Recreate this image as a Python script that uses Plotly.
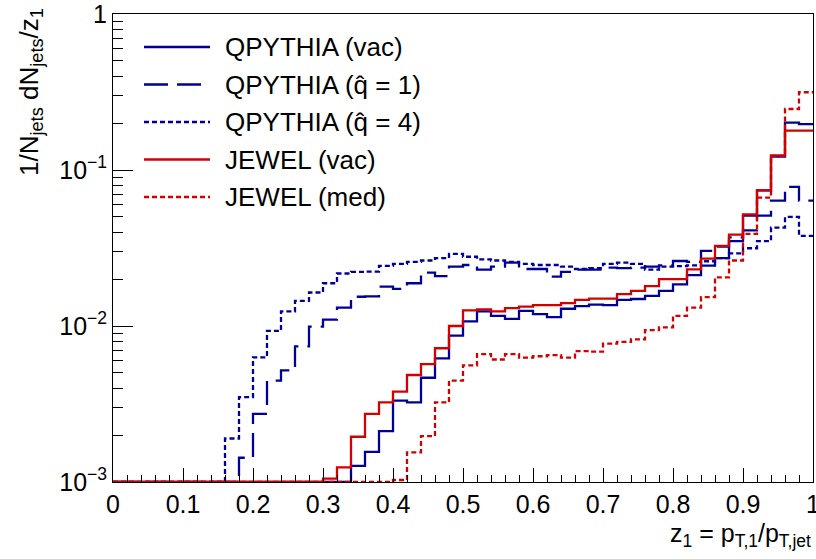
import numpy as np
import plotly.graph_objects as go

# bin edges: 50 bins of width 0.02 on [0, 1]
bin_edges = [round(0.02 * i, 2) for i in range(51)]

qpythia_vac = [0]*17 + [
    1.27e-3, 1.56e-3, 2.12e-3, 3.32e-3, 3.24e-3, 4.66e-3, 6.2e-3, 8.67e-3,
    1.07e-2, 1.24e-2, 1.16e-2, 1.11e-2, 1.25e-2, 1.19e-2, 1.14e-2, 1.29e-2,
    1.34e-2, 1.37e-2, 1.36e-2, 1.47e-2, 1.49e-2, 1.56e-2, 1.68e-2, 1.85e-2,
    2.12e-2, 2.44e-2, 2.72e-2, 3.5e-2, 5.1e-2, 7.4e-2, 0.122, 0.201, 0.197]

qpythia_q1 = [0]*9 + [
    1.43e-3, 2.73e-3, 4.46e-3, 5.2e-3, 7.4e-3, 9.9e-3, 1.1e-2, 1.31e-2,
    1.54e-2, 1.55e-2, 1.79e-2, 1.73e-2, 1.88e-2, 2.2e-2, 2.09e-2, 2.4e-2,
    2.46e-2, 2.3e-2, 2.4e-2, 2.55e-2, 2.32e-2, 2.32e-2, 2.07e-2, 2.22e-2,
    2.3e-2, 2.3e-2, 2.37e-2, 2.35e-2, 2.37e-2, 2.4e-2, 2.45e-2, 2.61e-2,
    2.58e-2, 3.03e-2, 3.23e-2, 3.7e-2, 4.1e-2, 5.1e-2, 6.36e-2, 7.8e-2, 6.36e-2]

qpythia_q4 = [0]*8 + [
    1.9e-3, 3.5e-3, 6.3e-3, 9.3e-3, 1.24e-2, 1.45e-2, 1.64e-2, 1.88e-2,
    2.17e-2, 2.22e-2, 2.23e-2, 2.43e-2, 2.5e-2, 2.58e-2, 2.63e-2, 2.72e-2,
    2.9e-2, 2.78e-2, 2.67e-2, 2.63e-2, 2.58e-2, 2.5e-2, 2.46e-2, 2.46e-2,
    2.4e-2, 2.32e-2, 2.35e-2, 2.5e-2, 2.55e-2, 2.5e-2, 2.3e-2, 2.4e-2,
    2.42e-2, 2.45e-2, 2.6e-2, 2.72e-2, 2.92e-2, 3.15e-2, 3.5e-2, 4.27e-2,
    5.0e-2, 3.78e-2]

jewel_vac = [0]*15 + [
    1.05e-3, 1.24e-3, 1.95e-3, 2.73e-3, 3.24e-3, 3.8e-3, 4.85e-3, 5.7e-3,
    7.2e-3, 1.0e-2, 1.26e-2, 1.28e-2, 1.24e-2, 1.3e-2, 1.33e-2, 1.36e-2,
    1.36e-2, 1.4e-2, 1.47e-2, 1.5e-2, 1.5e-2, 1.6e-2, 1.68e-2, 1.8e-2,
    2.0e-2, 2.0e-2, 2.31e-2, 2.7e-2, 3.26e-2, 3.85e-2, 5.2e-2, 7.4e-2,
    0.124, 0.179, 0.179]

jewel_med = [0]*20 + [
    1.03e-3, 1.55e-3, 1.97e-3, 3.24e-3, 4.46e-3, 5.6e-3, 6.6e-3, 6.1e-3,
    6.6e-3, 6.27e-3, 6.4e-3, 6.5e-3, 6.27e-3, 6.9e-3, 6.85e-3, 7.7e-3,
    7.9e-3, 8.2e-3, 9.4e-3, 9.8e-3, 1.16e-2, 1.31e-2, 1.53e-2, 2.05e-2,
    2.63e-2, 3.89e-2, 6.65e-2, 0.123, 0.246, 0.315]

series_names = ["QPYTHIA (vac)", "QPYTHIA (q\u0302 = 1)", "QPYTHIA (q\u0302 = 4)",
                "JEWEL (vac)", "JEWEL (med)"]
series_values = [qpythia_vac, qpythia_q1, qpythia_q4, jewel_vac, jewel_med]

x_tickvals = [0, 0.1, 0.2, 0.3, 0.4, 0.5, 0.6, 0.7, 0.8, 0.9, 1]
x_ticktext = ["0", "0.1", "0.2", "0.3", "0.4", "0.5", "0.6", "0.7", "0.8", "0.9", "1"]
y_tickvals = [1e-3, 1e-2, 1e-1, 1]
y_ticktext = ["10<sup>\u22123</sup>", "10<sup>\u22122</sup>", "10<sup>\u22121</sup>", "1"]

BLUE = "#000099"
RED = "#d40000"
styles = [
    dict(color=BLUE, dash="solid"),
    dict(color=BLUE, dash="24px,9px"),
    dict(color=BLUE, dash="5px,3px"),
    dict(color=RED, dash="solid"),
    dict(color=RED, dash="5px,3px"),
]

FLOOR = 1e-3
fig = go.Figure()
for name, vals, st in zip(series_names, series_values, styles):
    v = np.maximum(np.array(vals, dtype=float), FLOOR)
    y = list(v) + [v[-1]]
    fig.add_trace(go.Scatter(
        x=bin_edges, y=y, mode="lines", name=name, line_shape="hv",
        line=dict(color=st["color"], dash=st["dash"], width=2.3),
        showlegend=False, hoverinfo="skip"))

font = "Liberation Sans, Arial, Helvetica, sans-serif"
FS_LEG = 26
FS_TICK = 25
FS_TITLE = 25
L, R, T, B = 113, 3, 14, 77
W, H = 816, 559
pw, ph = W - L - R, H - T - B

# manual legend (ROOT style)
shapes = []
annotations = []
row_y0 = 47
row_dy = 37.5
for i, (name, st) in enumerate(zip(series_names, styles)):
    yp = 1 - (row_y0 + i * row_dy - T) / ph
    shapes.append(dict(type="line", xref="paper", yref="paper",
                       x0=(144 - L) / pw, x1=(210 - L) / pw, y0=yp, y1=yp,
                       line=dict(color=st["color"], dash=st["dash"], width=2.3)))
    annotations.append(dict(xref="paper", yref="paper", x=(223 - L) / pw, y=yp,
                            xanchor="left", yanchor="middle", showarrow=False,
                            text=name, font=dict(family=font, size=FS_LEG, color="black")))

annotations.append(dict(xref="paper", yref="paper", x=1.0, y=-(535 - T - ph) / ph,
                        xanchor="right", yanchor="middle", showarrow=False,
                        text="z<sub>1</sub> = p<sub>T,1</sub>/p<sub>T,jet</sub>",
                        font=dict(family=font, size=FS_TITLE, color="black")))
annotations.append(dict(xref="paper", yref="paper", x=-(L - 30) / pw, y=1 + 8 / ph,
                        xanchor="center", yanchor="top", showarrow=False, textangle=-90,
                        text="1/N<sub>jets</sub> dN<sub>jets</sub>/z<sub>1</sub>",
                        font=dict(family=font, size=26, color="black")))

y_minor = [m * 10.0 ** k for k in (-3, -2, -1) for m in range(2, 10)]

fig.update_layout(
    width=W, height=H,
    margin=dict(l=L, r=R, t=T, b=B, autoexpand=False),
    paper_bgcolor="white", plot_bgcolor="white",
    font=dict(family=font, size=FS_TICK, color="black"),
    shapes=shapes, annotations=annotations,
    xaxis=dict(range=[0, 1], tickmode="array", tickvals=x_tickvals, ticktext=x_ticktext,
               ticks="inside", ticklen=14, tickwidth=1, tickcolor="black",
               ticklabeloverflow="allow", automargin=False,
               minor=dict(ticks="inside", dtick=0.02, tick0=0, ticklen=7, tickcolor="black",
                          tickwidth=1, showgrid=False),
               showline=True, linecolor="black", linewidth=1, mirror=True,
               showgrid=False, zeroline=False,
               tickfont=dict(family=font, size=FS_TICK, color="black")),
    yaxis=dict(type="log", range=[-3, 0], tickmode="array", tickvals=y_tickvals,
               ticktext=y_ticktext,
               ticks="inside", ticklen=20, tickwidth=1, tickcolor="black",
               ticklabeloverflow="allow", automargin=False,
               minor=dict(ticks="inside", tickmode="array", tickvals=y_minor, ticklen=10,
                          tickcolor="black", tickwidth=1, showgrid=False),
               showline=True, linecolor="black", linewidth=1, mirror=True,
               showgrid=False, zeroline=False,
               tickfont=dict(family=font, size=FS_TICK, color="black")),
)

fig.write_html("out.html")
